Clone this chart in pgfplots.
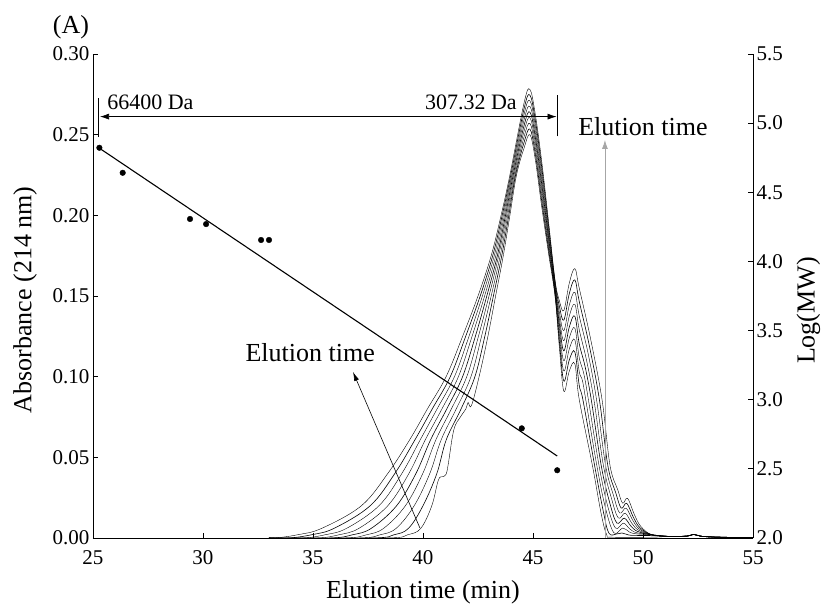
\documentclass[border=0pt]{standalone}
\usepackage{fontspec}
\setmainfont{Liberation Serif}
\usepackage{pgfplots}
\pgfplotsset{compat=1.18}
\usetikzlibrary{arrows.meta}
\begin{document}
\begin{tikzpicture}
\pgfplotsset{
  every axis/.append style={
    scale only axis, width=660pt, height=484pt,
    xmin=25, xmax=55, clip=false,
    tick align=inside, major tick length=5pt,
    axis line style={line width=0.9pt},
    tick style={line width=0.8pt, black},
    tick label style={font=\fontsize{21}{25}\selectfont},
    label style={font=\fontsize{26}{31}\selectfont},
    /pgf/number format/assume math mode=true,
  },
}
\begin{axis}[
  axis x line*=bottom, axis y line*=left,
  ymin=0, ymax=0.30,
  xtick={25,30,35,40,45,50,55},
  ytick={0,0.05,0.10,0.15,0.20,0.25,0.30},
  yticklabel style={/pgf/number format/.cd, fixed, fixed zerofill, precision=2},
  xticklabel style={yshift=-9pt},
  xlabel={Elution time (min)},
  ylabel={Absorbance (214 nm)},
  xlabel style={at={(axis description cs:0.5,-0.112)}, anchor=center},
  ylabel style={at={(axis description cs:-0.103,0.492)}, anchor=center},
  cycle list={{black, line width=0.6pt, no markers}},
  every axis plot post/.append style={smooth, tension=0.6},
]
\addplot coordinates {(33,0)(33.3,0)(34.3,0.002)(35.4,0.006)(37.2,0.02)(38.4,0.04)(39.4,0.061)(40.2,0.08)(41.05,0.1)(41.8,0.125)(42.5,0.15)(43.1,0.175)(43.55,0.2)(43.95,0.225)(44.6,0.27)(44.86,0.278)(45.1,0.263)(45.4,0.233)(45.7,0.197)(46.0,0.16)(46.2,0.147)(46.4,0.141)(46.65,0.158)(46.9,0.167)(47.1,0.155)(47.62,0.1233)(48.14,0.0856)(48.5,0.045)(48.85,0.03)(49.075,0.0216)(49.3,0.0246)(49.6,0.0148)(49.9,0.0072)(50.4,0.002)(51.2,0.001)(52.0,0.0012)(52.3,0.0022)(52.7,0.001)(53.5,0.0005)(55,0.0003)};
\addplot coordinates {(33,0)(33.93,0)(34.93,0.002)(35.96,0.006)(37.6,0.02)(38.72,0.04)(39.64,0.061)(40.42,0.08)(41.24,0.1)(41.94,0.125)(42.6,0.15)(43.17,0.175)(43.6,0.2)(43.99,0.225)(44.6,0.2665)(44.86,0.2745)(45.1,0.2595)(45.4,0.2295)(45.7,0.1945)(46.0,0.159)(46.2,0.1436)(46.4,0.135)(46.65,0.1515)(46.9,0.16)(47.1,0.1468)(47.56,0.1192)(48.02,0.0856)(48.4,0.045)(48.76,0.0281)(49.01,0.0185)(49.26,0.0215)(49.56,0.0129)(49.86,0.0064)(50.4,0.002)(51.2,0.001)(52.0,0.0012)(52.3,0.0022)(52.7,0.001)(53.5,0.0005)(55,0.0003)};
\addplot coordinates {(33,0)(34.55,0)(35.55,0.002)(36.53,0.006)(38.0,0.02)(39.04,0.04)(39.88,0.061)(40.64,0.08)(41.43,0.1)(42.09,0.125)(42.7,0.15)(43.24,0.175)(43.65,0.2)(44.03,0.225)(44.6,0.263)(44.86,0.271)(45.1,0.256)(45.4,0.226)(45.7,0.192)(46.0,0.1575)(46.2,0.1398)(46.4,0.1285)(46.65,0.1444)(46.9,0.1523)(47.1,0.1378)(47.5,0.1147)(47.89,0.0856)(48.3,0.045)(48.66,0.0263)(48.94,0.0155)(49.23,0.0185)(49.53,0.0111)(49.83,0.0056)(50.4,0.002)(51.2,0.001)(52.0,0.0012)(52.3,0.0022)(52.7,0.001)(53.5,0.0005)(55,0.0003)};
\addplot coordinates {(33,0)(35.18,0)(36.18,0.002)(37.09,0.006)(38.4,0.02)(39.36,0.04)(40.11,0.061)(40.86,0.08)(41.61,0.1)(42.23,0.125)(42.8,0.15)(43.31,0.175)(43.7,0.2)(44.06,0.225)(44.6,0.2595)(44.86,0.2675)(45.1,0.2525)(45.4,0.2225)(45.7,0.1895)(46.0,0.1563)(46.2,0.1362)(46.4,0.1223)(46.65,0.1376)(46.9,0.1449)(47.1,0.1292)(47.43,0.1104)(47.77,0.0856)(48.2,0.045)(48.57,0.0244)(48.88,0.0124)(49.19,0.0154)(49.49,0.0092)(49.79,0.0049)(50.4,0.002)(51.2,0.001)(52.0,0.0012)(52.3,0.0022)(52.7,0.001)(53.5,0.0005)(55,0.0003)};
\addplot coordinates {(33,0)(35.8,0)(36.8,0.002)(37.65,0.006)(38.8,0.02)(39.68,0.04)(40.35,0.061)(41.08,0.08)(41.8,0.1)(42.38,0.125)(42.9,0.15)(43.38,0.175)(43.75,0.2)(44.1,0.225)(44.6,0.256)(44.86,0.264)(45.1,0.249)(45.4,0.219)(45.7,0.187)(46.0,0.155)(46.2,0.1325)(46.4,0.116)(46.65,0.1308)(46.9,0.1375)(47.1,0.1205)(47.37,0.1061)(47.65,0.0856)(48.1,0.045)(48.475,0.0225)(48.81,0.0093)(49.15,0.0123)(49.45,0.0074)(49.75,0.0041)(50.4,0.002)(51.2,0.001)(52.0,0.0012)(52.3,0.0022)(52.7,0.001)(53.5,0.0005)(55,0.0003)};
\addplot coordinates {(33,0)(36.43,0)(37.43,0.002)(38.21,0.006)(39.2,0.02)(39.99,0.04)(40.59,0.061)(41.29,0.08)(41.99,0.1)(42.52,0.125)(43.0,0.15)(43.44,0.175)(43.8,0.2)(44.14,0.225)(44.6,0.2525)(44.86,0.2605)(45.1,0.2455)(45.4,0.2155)(45.7,0.1845)(46.0,0.1538)(46.2,0.1289)(46.4,0.1098)(46.65,0.124)(46.9,0.1301)(47.1,0.1119)(47.31,0.1018)(47.52,0.0856)(48.0,0.045)(48.38,0.0206)(48.75,0.0062)(49.11,0.0092)(49.41,0.0055)(49.71,0.0033)(50.4,0.002)(51.2,0.001)(52.0,0.0012)(52.3,0.0022)(52.7,0.001)(53.5,0.0005)(55,0.0003)};
\addplot coordinates {(33,0)(37.05,0)(38.05,0.002)(38.78,0.006)(39.6,0.02)(40.31,0.04)(40.83,0.061)(41.51,0.08)(42.18,0.1)(42.66,0.125)(43.1,0.15)(43.51,0.175)(43.85,0.2)(44.18,0.225)(44.6,0.249)(44.86,0.257)(45.1,0.242)(45.4,0.212)(45.7,0.182)(46.0,0.1525)(46.2,0.1253)(46.4,0.1035)(46.65,0.1172)(46.9,0.1228)(47.1,0.1033)(47.25,0.0975)(47.4,0.0856)(47.9,0.045)(48.29,0.0188)(48.68,0.0032)(49.08,0.0062)(49.38,0.0037)(49.68,0.0026)(50.4,0.002)(51.2,0.001)(52.0,0.0012)(52.3,0.0022)(52.7,0.001)(53.5,0.0005)(55,0.0003)};
\addplot coordinates {(33,0)(37.68,0)(38.68,0.002)(39.34,0.006)(40.0,0.02)(40.63,0.04)(41.06,0.061)(41.73,0.08)(42.36,0.1)(42.81,0.125)(43.2,0.15)(43.58,0.175)(43.9,0.2)(44.21,0.225)(44.6,0.2455)(44.86,0.2535)(45.1,0.2385)(45.4,0.2085)(45.7,0.1795)(46.0,0.1513)(46.2,0.1217)(46.4,0.0973)(46.65,0.1104)(46.9,0.1154)(47.1,0.0947)(47.27,0.0856)(47.8,0.045)(48.19,0.0169)(48.45,0.003)(48.8,0.0025)(49.04,0.0031)(49.34,0.0019)(49.64,0.0016)(50.4,0.0015)(51.2,0.001)(52.0,0.0012)(52.3,0.0022)(52.7,0.001)(53.5,0.0005)(55,0.0003)};
\addplot coordinates {(33,0)(38.3,0)(39.3,0.002)(39.9,0.006)(40.4,0.02)(40.7,0.036)(40.9,0.038)(41.05,0.0395)(41.15,0.046)(41.4,0.067)(41.7,0.075)(41.95,0.08)(42.05,0.084)(42.2,0.082)(42.55,0.1)(42.95,0.125)(43.3,0.15)(43.65,0.175)(43.95,0.2)(44.25,0.225)(44.6,0.242)(44.86,0.25)(45.1,0.235)(45.4,0.205)(45.7,0.177)(46.0,0.15)(46.2,0.118)(46.4,0.091)(46.65,0.1035)(46.9,0.108)(47.1,0.086)(47.7,0.045)(48.1,0.015)(48.35,0.002)(48.6,0.0005)(50.4,0.0005)(51.2,0.001)(52.0,0.0012)(52.3,0.0022)(52.7,0.001)(53.5,0.0005)(55,0.0003)};
% annotations
\draw[line width=0.6pt, {Latex[length=9pt,width=6pt]}-{Latex[length=9pt,width=6pt]}] (axis cs:25.32,0.2612) -- (axis cs:46.07,0.2612);
\draw[line width=0.9pt] (axis cs:25.27,0.2485) -- (axis cs:25.27,0.273);
\draw[line width=0.9pt] (axis cs:46.12,0.249) -- (axis cs:46.12,0.2746);
\node[anchor=base west, inner sep=0pt, font=\fontsize{22}{26}\selectfont] at (axis cs:25.64,0.2655) {66400 Da};
\node[anchor=base east, inner sep=0pt, font=\fontsize{22}{26}\selectfont] at (axis cs:44.27,0.2655) {307.32 Da};
\draw[gray!70, line width=0.8pt, -{Latex[length=9pt,width=6pt]}] (axis cs:48.27,0) -- (axis cs:48.27,0.2467);
\node[anchor=base west, inner sep=0pt, font=\fontsize{26}{31}\selectfont] at (axis cs:47.05,0.2495) {Elution time};
\draw[black, line width=0.6pt, -{Latex[length=9pt,width=5pt]}] (axis cs:39.86,0.0062) -- (axis cs:36.82,0.1029);
\node[anchor=base east, inner sep=0pt, font=\fontsize{26}{31}\selectfont] at (axis cs:37.82,0.1093) {Elution time};
\end{axis}
\begin{axis}[
  axis x line=none, axis y line*=right,
  ymin=2, ymax=5.5,
  ytick={2,2.5,3,3.5,4,4.5,5,5.5},
  yticklabel style={/pgf/number format/.cd, fixed, fixed zerofill, precision=1},
  ylabel={Log(MW)},
  ylabel style={at={(axis description cs:1.084,0.47)}, anchor=center},
]
\addplot[black, line width=1.1pt] coordinates {(25.3,4.818) (46.1,2.593)};
\addplot[only marks, mark=*, mark size=2.8pt, black] coordinates {(25.29,4.822) (26.35,4.641) (29.41,4.307) (30.14,4.270) (32.64,4.155) (33.0,4.155) (44.49,2.793) (46.1,2.49)};
\end{axis}
\node[font=\fontsize{26}{31}\selectfont] at (-22pt,511pt) {(A)};
\pgfresetboundingbox
\useasboundingbox (-93pt,-70pt) rectangle (730pt,538pt);
\end{tikzpicture}
\end{document}
